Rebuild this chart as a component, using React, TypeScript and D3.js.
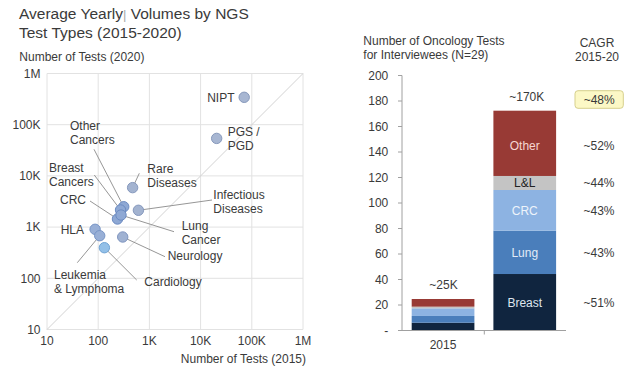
import React from 'react';
import * as d3 from 'd3';

// ---------- Scatter data ----------
const testTypes = ['NIPT', 'PGS / PGD', 'Rare Diseases', 'Infectious Diseases', 'Other Cancers', 'Breast Cancers', 'CRC', 'Lung Cancer', 'HLA', 'Leukemia & Lymphoma', 'Neurology', 'Cardiology'];
const tests2015 = [71000, 20600, 470, 610, 315, 273, 238, 279, 87, 107, 301, 132];
const tests2020 = [343000, 54000, 5900, 2130, 2500, 2160, 1440, 1720, 906, 679, 641, 396];
const logTicks = [10, 100, 1000, 10000, 100000, 1000000];
const logTickLabels = ['10', '100', '1K', '10K', '100K', '1M'];

// ---------- Stacked bar data ----------
const years = ['2015', '2020'];
const segments = ['Breast', 'Lung', 'CRC', 'L&L', 'Other'];
const values2015 = [6.1, 5.3, 6.0, 1.3, 6.0];
const values2020 = [44.3, 34.0, 31.9, 11.0, 51.2];
const segmentCagr = ['~51%', '~43%', '~43%', '~44%', '~52%'];
const totalLabels = ['~25K', '~170K'];
const totalCagr = '~48%';
const barTicks = [0, 20, 40, 60, 80, 100, 120, 140, 160, 180, 200];

// ---------- Styling / layout ----------
const FONT = 'Liberation Sans, Arial, sans-serif';
const TXT = '#3a3a3a';
const segColors = ['#10253f', '#4a7ebb', '#8db3e2', '#c4c4c4', '#983a35'];
const segTextColors = ['#dfe5ee', '#e2ebf7', '#eef4fb', '#222222', '#f6d6d2'];
const pointFill = ['#a7b6d2', '#a7b6d2', '#a3b3d0', '#a3b3d0', '#8ea8d4', '#8ea8d4', '#8ea8d4', '#8ea8d4', '#98afd6', '#98afd6', '#a0b2d2', '#93c0e8'];
const pointStroke = ['#8698bb', '#8698bb', '#8598bd', '#8598bd', '#6d8cc2', '#6d8cc2', '#6d8cc2', '#6d8cc2', '#7895c6', '#7895c6', '#8096c0', '#6fa3d4'];

// label layout: [x, baselines, anchor, leaderStart|null]
const labelLayout: [number, number[], string, [number, number] | null][] = [
  [234.5, [101.5], 'end', null],
  [227.7, [136, 150.3], 'start', null],
  [147.3, [172.6, 187], 'start', [139.3, 173.3]],
  [213.3, [199, 212.6], 'start', [212, 200]],
  [70, [130, 144.3], 'start', [94, 149.3]],
  [49, [171.6, 186], 'start', [94.3, 175]],
  [60, [204.3], 'start', [90, 201]],
  [181.7, [229.6, 243.6], 'start', [174, 231.7]],
  [60.7, [234.3], 'start', null],
  [54, [279.3, 293.3], 'start', [77.3, 262.7]],
  [167.7, [260.3], 'start', [165, 256.7]],
  [144.3, [286], 'start', [136.7, 280]],
];
const labelLines = [
  ['NIPT'], ['PGS /', 'PGD'], ['Rare', 'Diseases'], ['Infectious', 'Diseases'], ['Other', 'Cancers'],
  ['Breast', 'Cancers'], ['CRC'], ['Lung', 'Cancer'], ['HLA'], ['Leukemia', '& Lymphoma'], ['Neurology'], ['Cardiology'],
];

export default function App() {
  const sx = d3.scaleLog().domain([10, 1e6]).range([47, 303]);
  const sy = d3.scaleLog().domain([10, 1e6]).range([329.5, 73.5]);

  const by = d3.scaleLinear().domain([0, 200]).range([330.5, 75.5]);
  const bx = d3.scaleBand<string>().domain(years).range([392.7, 575.1]).padding(0.2325);
  const axisX = 402;

  const table = years.map((yr, i) => {
    const vals = i === 0 ? values2015 : values2020;
    const row: any = { year: yr };
    segments.forEach((s, j) => (row[s] = vals[j]));
    return row;
  });
  const stacked = d3.stack().keys(segments)(table);
  const totals = table.map((r) => d3.sum(segments, (s) => r[s]));
  const cagrX = 599;

  return (
    <svg width={640} height={372} style={{ position: 'absolute', left: 0, top: 0, background: '#fff' }} fontFamily={FONT}>
      <rect width={640} height={372} fill="#fff" />
      {/* Title */}
      <text x={19} y={19} fontSize={15.5} fill={TXT}>
        Average Yearly<tspan fill="#aaa" fontSize={13}>|</tspan> Volumes by NGS
      </text>
      <text x={19} y={37.5} fontSize={15.5} fill={TXT}>Test Types (2015-2020)</text>
      <text x={19.3} y={61} fontSize={12} fill={TXT}>Number of Tests (2020)</text>

      {/* Scatter grid */}
      {logTicks.map((t) => (
        <line key={'gx' + t} x1={sx(t)} x2={sx(t)} y1={sy(1e6)} y2={sy(10)} stroke="#e2e2e2" strokeWidth={1} />
      ))}
      {logTicks.map((t) => (
        <line key={'gy' + t} x1={sx(10)} x2={sx(1e6)} y1={sy(t)} y2={sy(t)} stroke="#e2e2e2" strokeWidth={1} />
      ))}
      <line x1={sx(10)} y1={sy(10)} x2={sx(1e6)} y2={sy(1e6)} stroke="#d2d2d2" strokeWidth={1} />
      {logTicks.map((t, i) => (
        <text key={'ty' + t} x={40.5} y={sy(t) + 4.3} fontSize={12} textAnchor="end" fill={TXT}>{logTickLabels[i]}</text>
      ))}
      {logTicks.map((t, i) => (
        <text key={'tx' + t} x={sx(t)} y={345} fontSize={12} textAnchor="middle" fill={TXT}>{logTickLabels[i]}</text>
      ))}
      <text x={306} y={362.5} fontSize={12} textAnchor="end" fill={TXT}>Number of Tests (2015)</text>

      {/* leader lines */}
      {testTypes.map((n, i) => {
        const ls = labelLayout[i][3];
        if (!ls) return null;
        return <line key={'ll' + n} x1={ls[0]} y1={ls[1]} x2={sx(tests2015[i])} y2={sy(tests2020[i])} stroke="#8a8a8a" strokeWidth={0.9} />;
      })}
      {/* points */}
      {testTypes.map((n, i) => (
        <circle key={'pt' + n} cx={sx(tests2015[i])} cy={sy(tests2020[i])} r={5.2} fill={pointFill[i]} stroke={pointStroke[i]} strokeWidth={1} />
      ))}
      {/* labels */}
      {testTypes.map((n, i) => {
        const [lx, bls, anchor] = labelLayout[i];
        return labelLines[i].map((ln, k) => (
          <text key={'lb' + n + k} x={lx} y={bls[k]} fontSize={12} textAnchor={anchor as any} fill={TXT}>{ln}</text>
        ));
      })}

      {/* ---------- Bar chart ---------- */}
      <text x={363.3} y={45} fontSize={12} fill={TXT}>Number of Oncology Tests</text>
      <text x={363.3} y={59.3} fontSize={12} fill={TXT}>for Interviewees (N=29)</text>
      <text x={cagrX - 2} y={47} fontSize={12} textAnchor="middle" fill={TXT}>CAGR</text>
      <text x={cagrX - 2} y={61.3} fontSize={12} textAnchor="middle" fill={TXT}>2015-20</text>

      {barTicks.map((t) => (
        <g key={'bt' + t}>
          <line x1={axisX - 4} x2={axisX} y1={by(t)} y2={by(t)} stroke="#a0a0a0" />
          <text x={388.3} y={by(t) + 4.3} fontSize={12} textAnchor="end" fill={TXT}>{t === 0 ? '-' : t}</text>
        </g>
      ))}
      <line x1={axisX} x2={axisX} y1={by(200)} y2={by(0)} stroke="#a0a0a0" />

      {stacked.map((layer, j) =>
        layer.map((d, i) => (
          <rect key={'seg' + j + '-' + i} x={bx(years[i])} width={bx.bandwidth()} y={by(d[1])} height={by(d[0]) - by(d[1])} fill={segColors[j]} />
        ))
      )}
      <line x1={axisX} x2={566} y1={by(0)} y2={by(0)} stroke="#a0a0a0" />
      <line x1={484.3} x2={484.3} y1={by(0)} y2={by(0) + 4} stroke="#a0a0a0" />

      {/* in-bar labels for 2020 + CAGR */}
      {stacked.map((layer, j) => {
        const d = layer[1];
        const cy = (by(d[0]) + by(d[1])) / 2 + (j === 4 ? 2.5 : 0);
        return (
          <g key={'lab' + j}>
            <text x={(bx('2020') as number) + bx.bandwidth() / 2} y={cy + 4.3} fontSize={12} textAnchor="middle" fill={segTextColors[j]}>{segments[j]}</text>
            <text x={cagrX} y={cy + 4.3} fontSize={12} textAnchor="middle" fill={TXT}>{segmentCagr[j]}</text>
          </g>
        );
      })}

      {years.map((yr, i) => (
        <text key={'tot' + yr} x={(bx(yr) as number) + bx.bandwidth() / 2 + (i === 0 ? 0.5 : 2)} y={by(totals[i]) - 10} fontSize={12} textAnchor="middle" fill={TXT}>{totalLabels[i]}</text>
      ))}
      <text x={(bx('2015') as number) + bx.bandwidth() / 2} y={348.6} fontSize={12} textAnchor="middle" fill={TXT}>2015</text>

      <rect x={575} y={90.7} width={48.3} height={17.6} rx={3} fill="#fcf8c6" stroke="#d6cf8c" />
      <text x={599.2} y={103.6} fontSize={12} textAnchor="middle" fill={TXT}>{totalCagr}</text>
    </svg>
  );
}
